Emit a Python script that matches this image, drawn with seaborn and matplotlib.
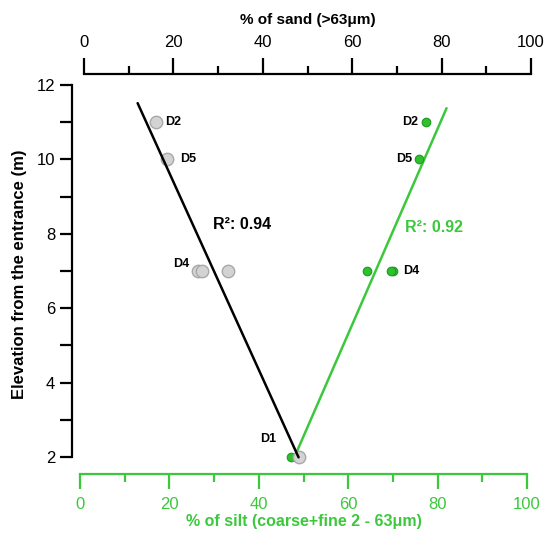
import numpy as np
import matplotlib.pyplot as plt
from matplotlib.ticker import MultipleLocator, FuncFormatter
import seaborn as sns

# Elevation (m) of the samples
elev = [11, 10, 7, 7, 7, 2]
# % of sand (>63um) - grey points, top axis
sand = [16, 18.5, 25.5, 26.3, 32.3, 48.2]
# % of silt (2-63um) - green points, bottom axis
silt = [77.4, 75.8, 70.1, 69.5, 64.1, 47.1]
# sample names
sand_lab = ['D2', 'D5', 'D4', '', '', 'D1']
silt_lab = ['D2', 'D5', 'D4', '', '', '']
# x extent of the regression lines and reported R2
sand_fit_x = [12, 48]
silt_fit_x = [48.5, 82]
r2 = [0.94, 0.92]

green = '#3cc83c'

sns.set_style('ticks')
plt.rcParams['font.family'] = ['Liberation Sans', 'DejaVu Sans']
plt.rcParams['text.color'] = 'black'
plt.rcParams['axes.labelcolor'] = 'black'
plt.rcParams['xtick.color'] = 'black'
plt.rcParams['ytick.color'] = 'black'

fig = plt.figure(figsize=(5.44, 5.38), dpi=100)
bot = (538 - 474) / 538
hgt = (474 - 74) / 538
ax = fig.add_axes([80 / 544, bot, 447 / 544, hgt])
ax2 = fig.add_axes([84 / 544, bot, 447 / 544, hgt])
ax2.patch.set_alpha(0)

ylim = (1.543, 12.296)

# silt (bottom axis)
b = np.polyfit(silt, elev, 1)
xs = np.array(silt_fit_x)
sns.lineplot(x=xs, y=np.polyval(b, xs), color=green, lw=1.8, ax=ax, zorder=2)
sns.scatterplot(x=silt, y=elev, color='#2fbf2f', edgecolor='#1f9a1f', s=38,
                linewidth=0.8, ax=ax, zorder=3)

# sand (top axis)
a = np.polyfit(sand, elev, 1)
xs = np.array(sand_fit_x)
sns.scatterplot(x=sand, y=elev, color='#d3d3d3', edgecolor='#a8a8a8', s=80,
                linewidth=1.0, ax=ax2, zorder=2)
sns.lineplot(x=xs, y=np.polyval(a, xs), color='black', lw=1.8, ax=ax2, zorder=3)

lab_kw = dict(textcoords='offset points', fontsize=9, fontweight='bold', va='center')
ax2.annotate(sand_lab[0], (sand[0], elev[0]), xytext=(7, 0), ha='left', **lab_kw)
ax2.annotate(sand_lab[1], (sand[1], elev[1]), xytext=(9.5, 0), ha='left', **lab_kw)
ax2.annotate(sand_lab[2], (sand[2], elev[2]), xytext=(-6, 5), ha='right', **lab_kw)
ax.annotate(sand_lab[5], (silt[5], elev[5]), xytext=(-10, 13), ha='right', **lab_kw)
ax.annotate(silt_lab[0], (silt[0], elev[0]), xytext=(-6, 0), ha='right', **lab_kw)
ax.annotate(silt_lab[1], (silt[1], elev[1]), xytext=(-5, 0), ha='right', **lab_kw)
ax.annotate(silt_lab[2], (silt[2], elev[2]), xytext=(7, 0), ha='left', **lab_kw)

ax2.text(35.3, 8.24, f'R²: {r2[0]:.2f}', ha='center', va='center',
         fontsize=11.5, fontweight='bold', color='black')
ax.text(79.2, 8.16, f'R²: {r2[1]:.2f}', ha='center', va='center',
        fontsize=11.5, fontweight='bold', color=green)

# bottom axis (silt)
ax.set_xlim(0, 100)
ax.set_ylim(*ylim)
for s in ['top', 'right']:
    ax.spines[s].set_visible(False)
ax.spines['bottom'].set_color(green)
ax.spines['bottom'].set_linewidth(1.6)
ax.spines['left'].set_linewidth(1.6)
ax.spines['left'].set_color('black')
ax.spines['left'].set_position(('outward', 5.8))
ax.spines['left'].set_bounds(2, 12)
ax.xaxis.set_major_locator(MultipleLocator(20))
ax.xaxis.set_minor_locator(MultipleLocator(10))
ax.tick_params(axis='x', which='major', length=10.8, width=1.6, color=green,
               labelcolor=green, labelsize=12, pad=6)
ax.tick_params(axis='x', which='minor', length=5.8, width=1.6, color=green)
ax.yaxis.set_major_locator(MultipleLocator(2))
ax.yaxis.set_minor_locator(MultipleLocator(1))
ax.yaxis.set_major_formatter(FuncFormatter(lambda v, p: f'{v:.0f}'))
ax.tick_params(axis='y', which='both', length=9, width=1.6, labelsize=12, pad=3)
ax.set_xlabel('% of silt (coarse+fine 2 - 63μm)', color=green, fontsize=11.5,
              fontweight='bold', labelpad=1)
ax.set_ylabel('Elevation from the entrance (m)', fontsize=12, fontweight='bold',
              labelpad=7)

# top axis (sand)
ax2.set_xlim(0, 100)
ax2.set_ylim(*ylim)
for s in ['bottom', 'left', 'right']:
    ax2.spines[s].set_visible(False)
ax2.spines['top'].set_linewidth(1.6)
ax2.spines['top'].set_color('black')
ax2.xaxis.tick_top()
ax2.xaxis.set_label_position('top')
ax2.xaxis.set_major_locator(MultipleLocator(20))
ax2.xaxis.set_minor_locator(MultipleLocator(10))
ax2.tick_params(axis='x', which='major', length=11.5, width=1.6, labelsize=12, pad=6)
ax2.tick_params(axis='x', which='minor', length=5.8, width=1.6)
ax2.tick_params(axis='y', left=False, labelleft=False)
ax2.set_xlabel('% of sand (>63μm)', fontsize=11, fontweight='bold', labelpad=8)
ax2.set_ylabel('')

fig.savefig('out.png', dpi=100)
